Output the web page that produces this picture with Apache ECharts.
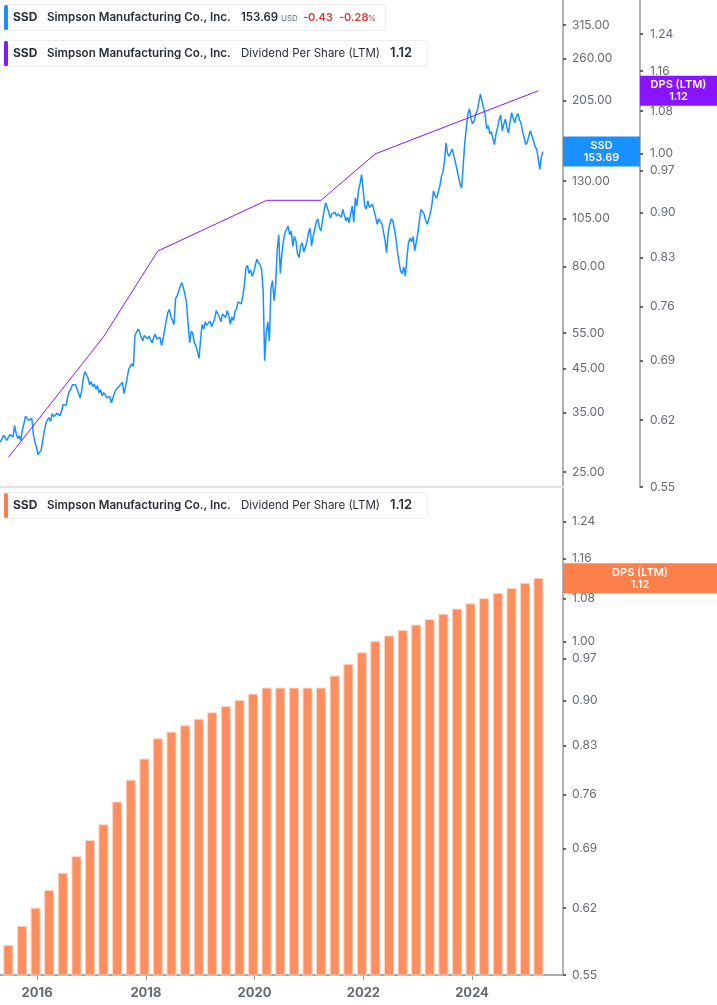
<!DOCTYPE html>
<html>
<head>
<meta charset="utf-8">
<script src="https://cdn.jsdelivr.net/npm/echarts@6/dist/echarts.min.js"></script>
<style>
html, body { margin: 0; padding: 0; background: #fff; }
#chart { width: 717px; height: 1005px; }
</style>
</head>
<body>
<div id="chart"></div>
<script>
// price, one reading every 10.5 days from priceStart
var priceStart = '2015-04-20';
var priceValues = [
    29.4, 29.1, 30.2, 30.8, 30.6, 29.9, 30.2, 30.9, 31.2, 30.5, 32.5, 31.1, 30.2, 30.7, 29.9, 31.8, 32.9, 34.3, 34, 33.5,
    33.2, 33.9, 31, 29.6, 28.8, 27.6, 27.4, 28.3, 29.9, 31.5, 32.9, 33.6, 34, 33.3, 34.8, 34.2, 34, 34.9, 35, 34.4,
    35.2, 36.6, 37, 36.5, 38.3, 39.5, 40, 41, 40.6, 41, 40, 39, 38, 39.8, 42.5, 44.2, 43.8, 42.6, 41, 41.7,
    40.6, 41.1, 40, 40.8, 39.2, 39.9, 38.5, 39.2, 38.7, 38.1, 37.7, 38.3, 37, 38.2, 39.2, 39.9, 40, 40.7, 41, 41.6,
    39, 40.6, 42.5, 44.8, 45.5, 46.1, 45.5, 54.2, 54.6, 56.2, 55.3, 53.6, 52.6, 54.2, 54.8, 53.2, 54, 52.9, 52, 53.6,
    54.6, 53.1, 52.6, 53.7, 51.2, 53.2, 56, 58.9, 61.7, 62.8, 60.3, 59, 57.7, 66.8, 67.8, 69.8, 71.7, 73.2, 71, 68.3,
    65.2, 58, 52, 55.6, 54.8, 51.9, 51.2, 49.4, 47.6, 53, 57.7, 56.2, 58.6, 57.4, 57.5, 58.8, 57, 58.2, 59.6, 62.4,
    63, 60.2, 58.6, 61.2, 61.7, 60, 62.4, 60.8, 57.7, 60.2, 59, 62.2, 63, 65.6, 65.8, 64.8, 67.8, 72, 79.4, 80.6,
    77, 78.6, 75.8, 77.5, 80.7, 83.5, 82, 81, 79, 70, 47, 55, 58.6, 52.5, 71, 74, 66, 72, 87.6, 96,
    77, 86, 92.7, 97, 99, 100.8, 95.9, 98, 89.8, 95, 92.7, 86, 84.4, 90, 91.7, 87, 86.6, 92, 97, 99.5,
    90, 95, 99, 103, 105, 100, 98, 104, 110, 115, 114.5, 109, 105.5, 108, 107, 109, 106.6, 108, 108.3, 106,
    110.8, 107, 103.8, 106, 102.7, 108, 112.8, 103, 118.3, 113, 123, 128, 135, 124, 112.8, 111, 116.3, 112, 110.8, 114,
    110, 106, 101.8, 105, 105, 102, 101.8, 93, 86.6, 97, 101.8, 105, 103.8, 99, 93.7, 87, 81.9, 78, 77, 80,
    75.8, 84, 91.7, 94, 92.2, 95, 87.6, 92, 97, 104, 110.8, 112, 108, 104, 101.8, 105, 108.3, 114, 123, 120,
    118, 122, 126, 133, 136.8, 145, 161.6, 152, 149.9, 153, 156, 150, 145, 139, 133, 128, 125, 142, 161, 176,
    190, 196, 184.7, 180, 183, 190, 193.7, 203, 213, 205, 202.8, 190, 175, 178, 170, 172, 165.6, 160, 170, 176,
    184.7, 189, 172.9, 180, 184.7, 176, 171, 182, 191.6, 186, 181, 188, 190.7, 184, 181, 172, 166.5, 160, 162, 168,
    172.9, 168, 163.4, 158, 156, 148, 139, 149, 153.69
];

// dividend per share (LTM), quarterly
var dpsDates = [
    '2015-06-22', '2015-09-22', '2015-12-22',
    '2016-03-22', '2016-06-22', '2016-09-22', '2016-12-22',
    '2017-03-22', '2017-06-22', '2017-09-22', '2017-12-22',
    '2018-03-22', '2018-06-22', '2018-09-22', '2018-12-22',
    '2019-03-22', '2019-06-22', '2019-09-22', '2019-12-22',
    '2020-03-22', '2020-06-22', '2020-09-22', '2020-12-22',
    '2021-03-22', '2021-06-22', '2021-09-22', '2021-12-22',
    '2022-03-22', '2022-06-22', '2022-09-22', '2022-12-22',
    '2023-03-22', '2023-06-22', '2023-09-22', '2023-12-22',
    '2024-03-22', '2024-06-22', '2024-09-22', '2024-12-22',
    '2025-03-22'
];
var dpsValues = [
    0.58, 0.60, 0.62, 0.64, 0.66, 0.68, 0.70, 0.72, 0.75, 0.78,
    0.81, 0.84, 0.85, 0.86, 0.87, 0.88, 0.89, 0.90, 0.91, 0.92,
    0.92, 0.92, 0.92, 0.92, 0.94, 0.96, 0.98, 1.00, 1.01, 1.02,
    1.03, 1.04, 1.05, 1.06, 1.07, 1.08, 1.09, 1.10, 1.11, 1.12
];

// upper panel line only has these reporting dates
var dpsLineDates = ['2015-06-22', '2017-03-22', '2018-03-22', '2020-03-22', '2021-03-22', '2022-03-22', '2025-03-22'];
var dpsLineValues = [0.58, 0.72, 0.84, 0.92, 0.92, 1.00, 1.12];

var priceTicks = [315, 260, 205, 150, 130, 105, 80, 55, 45, 35, 25];
var dpsTicks = [1.24, 1.16, 1.08, 1.00, 0.97, 0.90, 0.83, 0.76, 0.69, 0.62, 0.55];
var yearTicks = ['2016-01-01', '2018-01-01', '2020-01-01', '2022-01-01', '2024-01-01'];

var lastPrice = 153.69;
var lastDps = 1.12;

var BLUE = '#1890ff';
var PURPLE = '#8a14ff';
var ORANGE = '#ff7f4a';
var FONT = 'Inter';
var day = 24 * 3600 * 1000;
var xMin = +new Date('2015-04-27');
var xMax = +new Date('2025-09-03');

function pairs(dates, values) {
    var out = [];
    for (var i = 0; i < values.length; i++) {
        out.push([+new Date(dates[i]), values[i]]);
    }
    return out;
}

function pricePairs() {
    var t0 = +new Date(priceStart);
    var out = [];
    for (var i = 0; i < priceValues.length; i++) {
        out.push([t0 + i * 10.5 * day, priceValues[i]]);
    }
    return out;
}

function yearStamps() {
    var out = [];
    for (var i = 0; i < yearTicks.length; i++) {
        out.push(+new Date(yearTicks[i]));
    }
    return out;
}

function yAxis(grid, min, max, ticks, offset, margin) {
    return {
        type: 'log',
        gridIndex: grid,
        position: 'right',
        offset: offset,
        min: min,
        max: max,
        splitLine: { show: false },
        minorTick: { show: false },
        axisLine: { show: true, onZero: false, lineStyle: { color: '#b3b3b3', width: 2 } },
        axisTick: { show: true, length: 3, customValues: ticks, lineStyle: { color: '#666', width: 2 } },
        axisLabel: {
            show: true, customValues: ticks, margin: margin, hideOverlap: false, showMinLabel: true, showMaxLabel: true,
            color: '#666a70', fontFamily: FONT, fontSize: 12,
            formatter: function (v) { return Number(v).toFixed(2); }
        }
    };
}

// bars on a log axis start at 1 by default, so draw them up from the axis minimum
function renderBar(params, api) {
    var top = api.coord([api.value(0), api.value(1)]);
    var base = api.coord([api.value(0), 0.55]);
    return {
        type: 'rect',
        shape: { x: top[0] - 4.5, y: top[1], width: 9, height: base[1] - top[1] },
        style: { fill: '#ff8e5e', stroke: '#ffd3bf', lineWidth: 1 }
    };
}

function text(x, y, str, color, weight, size) {
    return {
        type: 'text', x: x, y: y, z: 20,
        style: { text: str, fill: color, fontFamily: FONT, fontWeight: weight, fontSize: size || 12, verticalAlign: 'middle' }
    };
}

function legendBox(y, width, color) {
    return [
        { type: 'rect', z: 19, shape: { x: 4.5, y: y + 0.5, width: width, height: 26, r: 3 },
          style: { fill: '#fff', stroke: '#eeeeee', lineWidth: 1 } },
        { type: 'rect', z: 20, shape: { x: 4, y: y + 1, width: 4, height: 25, r: 1.5 }, style: { fill: color } }
    ];
}

function legendTitle(y) {
    return [
        text(13, y + 13.5, 'SSD', '#2a2e39', 700),
        text(47, y + 13.5, 'Simpson Manufacturing Co., Inc.', '#2a2e39', 600, 11.6)
    ];
}

function dpsLegendText(y) {
    return [
        text(241, y + 13.5, 'Dividend Per Share (LTM)', '#2a2e39', 400, 11.5),
        text(390, y + 13.5, '1.12', '#2a2e39', 600, 13)
    ];
}

function valueBox(x, w, cy, color, name, value) {
    return {
        type: 'rect', z: 25, shape: { x: x, y: cy - 15, width: w, height: 30 },
        style: { fill: color },
        textContent: {
            z: 26,
            style: { text: name + '\n' + value, fill: '#fff', fontFamily: FONT, fontWeight: 600, fontSize: 11, lineHeight: 12, align: 'center' }
        },
        textConfig: { position: 'inside' }
    };
}

var chart = echarts.init(document.getElementById('chart'), null, { renderer: 'canvas' });

chart.setOption({
    animation: false,
    backgroundColor: '#fff',
    grid: [
        { left: 0, right: 154, top: 0, height: 487, containLabel: false },
        { left: 0, right: 154, top: 488, height: 487, containLabel: false }
    ],
    xAxis: [
        {
            type: 'value', gridIndex: 0, min: xMin, max: xMax,
            axisLine: { show: true, lineStyle: { color: '#e3e3e3', width: 2 } },
            axisTick: { show: false }, axisLabel: { show: false }, splitLine: { show: false }
        },
        {
            type: 'value', gridIndex: 1, min: xMin, max: xMax,
            axisLine: { show: true, lineStyle: { color: '#aaaaaa', width: 2 } },
            axisTick: { show: true, length: 5, customValues: yearStamps(), lineStyle: { color: '#999', width: 1 } },
            axisLabel: {
                show: true, customValues: yearStamps(), margin: 12, color: '#666a70',
                fontFamily: FONT, fontWeight: 700, fontSize: 13, hideOverlap: false,
                formatter: function (v) { return String(new Date(v).getUTCFullYear()); }
            },
            splitLine: { show: false }
        }
    ],
    yAxis: [
        yAxis(0, 22.96, 363, priceTicks, 0, 9),
        yAxis(0, 0.55, 1.318, dpsTicks, 77, 10),
        yAxis(1, 0.55, 1.317, dpsTicks, 0, 9)
    ],
    series: [
        {
            name: 'SSD', type: 'line', xAxisIndex: 0, yAxisIndex: 0, data: pricePairs(),
            showSymbol: false, symbol: 'none', sampling: null, lineStyle: { color: BLUE, width: 1.5 }, z: 3
        },
        {
            name: 'DPS line', type: 'line', xAxisIndex: 0, yAxisIndex: 1, data: pairs(dpsLineDates, dpsLineValues),
            showSymbol: false, symbol: 'none', lineStyle: { color: PURPLE, width: 1 }, z: 4
        },
        {
            name: 'DPS (LTM)', type: 'custom', xAxisIndex: 1, yAxisIndex: 2, data: pairs(dpsDates, dpsValues),
            renderItem: renderBar, encode: { x: 0, y: 1 }, z: 1
        }
    ]
});

var priceY = chart.convertToPixel({ yAxisIndex: 0 }, lastPrice);
var dpsTopY = chart.convertToPixel({ yAxisIndex: 1 }, lastDps);
var dpsBottomY = chart.convertToPixel({ yAxisIndex: 2 }, lastDps);

var elements = [].concat(
    legendBox(4, 381, BLUE),
    legendTitle(4),
    [
        text(241, 17.5, '153.69', '#2a2e39', 600, 11.5),
        text(281, 18.5, 'USD', '#6b7280', 400, 8),
        text(303, 17.5, '-0.43', '#d63b3b', 600, 11),
        text(339, 17.5, '-0.28', '#d63b3b', 600, 11),
        text(368, 18.5, '%', '#d63b3b', 400, 8)
    ],
    legendBox(40, 423, PURPLE),
    legendTitle(40),
    dpsLegendText(40),
    legendBox(492, 423, ORANGE),
    legendTitle(492),
    dpsLegendText(492),
    [
        valueBox(563, 77, priceY, BLUE, 'SSD', lastPrice.toFixed(2)),
        valueBox(640, 77, dpsTopY, PURPLE, 'DPS (LTM)', lastDps.toFixed(2)),
        valueBox(563, 154, dpsBottomY, ORANGE, 'DPS (LTM)', lastDps.toFixed(2))
    ]
);

chart.setOption({ graphic: { elements: elements } });
</script>
</body>
</html>
